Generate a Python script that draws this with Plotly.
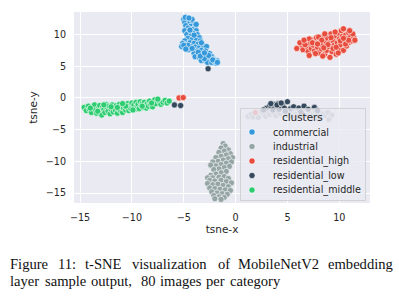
import plotly.graph_objects as go

# ---------------- data ----------------
categories = ["commercial", "industrial", "residential_high", "residential_low", "residential_middle"]
colors = ["#3498db", "#95a5a6", "#e74c3c", "#34495e", "#2ecc71"]

commercial_x = [-5.0, -4.7, -4.4, -4.9, -4.5, -4.1, -4.8, -4.3, -3.9, -4.6, -4.2, -3.8, -4.9, -4.5, -4.1, -3.7,
                -4.7, -4.3, -3.9, -3.5, -4.6, -4.2, -3.8, -3.4, -4.9, -5.1, -4.7, -4.4, -4.0, -3.6, -3.2, -5.2,
                -4.8, -4.3, -3.9, -3.5, -3.1, -2.8, -4.5, -4.1, -3.7, -3.3, -2.9, -4.0, -3.6, -3.2, -2.8, -2.5,
                -3.9, -3.5, -3.1, -2.7, -2.3, -3.3, -2.9, -2.5, -2.1, -1.8, -2.7, -2.3, -1.9, -3.0, -4.2, -3.8,
                -4.4, -4.0, -3.3, -4.6, -2.6, -2.0, -4.85, -4.5, -5.0, -4.2, -3.6, -2.2, -1.75, -3.4, -4.8, -3.0]
commercial_y = [12.4, 12.3, 12.1, 11.9, 11.7, 11.8, 11.4, 11.3, 11.2, 11.0, 10.8, 10.6, 10.6, 10.4, 10.2, 10.0,
                10.0, 9.8, 9.6, 9.5, 9.4, 9.2, 9.1, 9.0, 9.0, 8.6, 8.5, 8.7, 8.6, 8.5, 8.4, 8.1,
                8.0, 8.1, 8.0, 7.9, 7.9, 8.1, 7.6, 7.5, 7.4, 7.5, 7.4, 7.0, 6.9, 6.9, 6.8, 7.0,
                6.5, 6.4, 6.3, 6.4, 6.5, 5.9, 5.9, 6.0, 6.1, 5.9, 5.6, 5.6, 5.5, 6.2, 12.4, 11.6,
                10.7, 9.9, 8.7, 8.3, 6.7, 5.8, 12.7, 12.6, 8.3, 7.8, 7.2, 6.0, 5.6, 6.6, 7.7, 7.1]

industrial_x = [-1.2, -1.0, -1.4, -0.7, -1.1, -1.6, -0.5, -0.9, -1.4, -1.9, -0.3, -0.7, -1.2, -1.7, -2.2, -0.4,
                -0.9, -1.4, -1.9, -2.4, -0.6, -1.1, -1.6, -2.1, -0.9, -1.4, -1.9, -2.4, -2.7, -2.2, -1.6, -1.1,
                -0.7, -2.5, -2.0, -1.4, -0.9, -0.4, -2.7, -2.2, -1.7, -1.2, -0.7, -2.5, -2.0, -1.5, -1.0, -0.5,
                -2.3, -1.8, -1.3, -0.8, -2.1, -1.6, -1.1, -2.0, -1.4,
                1.2, 1.5, 1.7, 2.0, 2.3, 2.5, 2.7, 2.9, 3.1, 3.3, 3.5, 3.7, 3.9, 4.1, 4.3, 4.5,
                4.7, 4.9, 5.1, 5.3, 5.5, 5.7, 5.9, 6.1, 6.3, 6.5, 6.7, 6.9, 7.1, 7.3, 7.5, 7.7,
                7.9, 8.1, 8.3, 8.5, 8.7, 8.9, 9.1, 9.3, 4.0, 5.6, 6.8, 2.2, 6.0, 8.0, 9.0]
industrial_y = [-7.2, -7.6, -7.9, -8.2, -8.4, -8.6, -8.8, -9.0, -9.2, -9.4, -9.4, -9.6, -9.8, -10.0, -10.1, -10.1,
                -10.3, -10.5, -10.7, -10.6, -10.8, -11.0, -11.2, -11.3, -11.6, -11.8, -12.0, -12.2, -12.6, -12.6, -12.5, -12.4,
                -12.7, -13.0, -13.1, -13.0, -13.2, -13.4, -13.5, -13.7, -13.6, -13.8, -14.0, -14.2, -14.3, -14.4, -14.5, -14.6,
                -14.8, -15.0, -15.1, -15.2, -15.4, -15.6, -15.7, -15.9, -16.0,
                -2.9, -2.6, -3.0, -2.4, -2.7, -2.1, -2.5, -2.9, -2.2, -2.6, -2.0, -2.4, -2.8, -2.1, -2.5, -1.9,
                -2.3, -2.7, -2.0, -2.4, -2.8, -2.1, -2.5, -1.9, -2.7, -2.3, -2.0, -2.6, -2.2, -2.9, -2.4, -2.1,
                -2.7, -2.3, -3.0, -2.5, -2.8, -2.3, -3.1, -2.7, -1.6, -1.7, -1.8, -3.1, -3.0, -3.3, -3.4]

res_high_x = [5.9, 6.4, 6.5, 6.8, 6.9, 7.0, 7.1, 7.2, 7.3, 7.4, 7.5, 7.6, 7.7, 7.8, 7.9, 8.0,
              8.1, 8.2, 8.3, 8.4, 8.5, 8.6, 8.7, 8.8, 8.9, 9.0, 9.1, 9.1, 9.2, 9.3, 9.4, 9.5,
              9.6, 9.7, 9.8, 9.9, 10.0, 10.0, 10.1, 10.2, 10.3, 10.4, 10.5, 10.6, 10.7, 10.8, 10.9, 11.0,
              11.1, 11.2, 11.4, 11.5, 10.4, 9.6, 8.0, 7.1, 6.2, 8.4, 9.9, 10.6, 11.3, 7.7, 8.9, 9.4,
              8.3, 7.4, 6.7, 10.1, 9.2, 10.9, 8.6, 7.9, 9.7, 10.4, 11.0, 6.6, 8.5, -5.45, -5.05, 1.9]
res_high_y = [7.8, 8.3, 7.6, 8.9, 8.1, 7.3, 6.7, 8.6, 7.8, 9.1, 8.3, 7.4, 8.8, 9.5, 8.0, 7.1,
              8.6, 9.3, 7.7, 8.3, 9.7, 6.9, 8.9, 7.5, 9.4, 8.1, 6.4, 8.7, 10.1, 7.3, 9.0, 8.3,
              9.8, 6.9, 8.7, 10.2, 7.8, 9.3, 8.4, 10.6, 9.7, 7.5, 8.9, 9.9, 8.2, 9.4, 10.3, 8.8,
              9.7, 9.0, 9.5, 9.1, 10.9, 10.4, 9.6, 9.3, 8.7, 6.6, 7.1, 8.5, 10.1, 7.0, 8.4, 7.8,
              9.1, 8.7, 8.4, 9.0, 9.5, 9.1, 10.1, 8.5, 8.0, 9.4, 10.6, 9.1, 7.9, 0.0, 0.05, -2.3]

res_low_x = [3.0, 3.3, 3.5, 3.7, 3.9, 4.1, 4.3, 4.5, 4.7, 3.6, 4.2, 5.0, 5.3, 5.6, 6.1, 6.6,
             7.0, 7.6, 7.9, 2.7, 4.8, 6.3, 3.4, 4.0, 4.4, -5.9, -5.3, -2.65]
res_low_y = [-1.6, -1.2, -1.5, -1.0, -1.3, -0.9, -1.4, -1.1, -1.6, -1.9, -1.8, -0.6, -1.7, -1.4, -1.6, -1.3,
             -1.8, -1.5, -2.0, -1.9, -2.1, -2.2, -0.9, -1.1, -0.8, -1.1, -1.2, 4.6]

res_mid_x = [-14.6, -14.4, -14.2, -14.1, -13.9, -13.8, -13.6, -13.5, -13.4, -13.2, -13.1, -13.0, -12.9, -12.8,
             -12.7, -12.6, -12.5, -12.4, -12.3, -12.2, -12.1, -12.0, -11.9, -11.8, -11.7, -11.6, -11.5, -11.4,
             -11.3, -11.2, -11.1, -11.0, -10.9, -10.8, -10.7, -10.6, -10.5, -10.4, -10.3, -10.2, -10.1, -10.0,
             -9.9, -9.8, -9.7, -9.6, -9.5, -9.4, -9.3, -9.2, -9.1, -9.0, -8.9, -8.8, -8.7, -8.6, -8.5, -8.4,
             -8.3, -8.2, -8.0, -7.8, -7.7, -7.4, -7.2, -7.0, -6.8, -6.6, -6.4, -13.3, -12.0, -10.6, -9.9,
             -11.4, -12.7, -14.0, -9.0, -8.1, -10.9, -7.5]
res_mid_y = [-1.5, -2.0, -1.3, -1.8, -2.3, -1.5, -1.1, -1.9, -2.4, -1.6, -1.2, -2.0, -2.7, -1.4,
             -1.8, -2.3, -1.0, -1.6, -2.1, -1.3, -2.5, -1.8, -1.1, -2.2, -1.5, -1.9, -1.2, -2.4,
             -1.7, -1.0, -2.0, -1.4, -2.3, -1.6, -1.1, -1.9, -1.4, -0.9, -2.0, -1.3, -1.7, -0.8,
             -1.5, -1.1, -1.8, -0.7, -1.3, -1.0, -1.7, -0.6, -1.2, -0.9, -1.5, -0.7, -1.2, -1.6, -0.9, -1.3,
             -0.5, -1.0, -1.4, -0.3, -0.9, -0.5, -1.0, -0.7, -0.4, -0.8, -0.5, -2.1, -1.4, -1.3, -1.9,
             -1.5, -1.1, -1.6, -1.3, -0.8, -0.9, -0.2]

xs = [commercial_x, industrial_x, res_high_x, res_low_x, res_mid_x]
ys = [commercial_y, industrial_y, res_high_y, res_low_y, res_mid_y]

x_ticks = [-15, -10, -5, 0, 5, 10]
y_ticks = [-15, -10, -5, 0, 5, 10]
x_title = "tsne-x"
y_title = "tsne-y"
legend_title = "clusters"
caption_line1 = ["Figure", "11:", "t-SNE", "visualization", "of", "MobileNetV2", "embedding"]
caption_line2 = ["layer", "sample", "output,", "80", "images", "per", "category"]

# ---------------- layout geometry ----------------
W, H = 399, 299
L, R, T, B = 74, 370, 12, 203
pw, ph = R - L, B - T
TXT = "#262626"


def px_x(p):
    return (p - L) / pw


def px_y(p):
    return (B - p) / ph


fig = go.Figure()
for name, col, x, y in zip(categories, colors, xs, ys):
    fig.add_trace(go.Scatter(
        x=x, y=y, mode="markers", name=name, showlegend=False,
        marker=dict(size=6.2, color=col, line=dict(color="white", width=0.6)),
    ))

axis_common = dict(
    showgrid=True, gridcolor="white", gridwidth=1, zeroline=False, showline=False,
    ticks="outside", ticklen=5, tickcolor="rgba(0,0,0,0)",
    tickfont=dict(family="DejaVu Sans", size=9.6, color=TXT),
)
fig.update_xaxes(range=[-15.58, 12.96], tickvals=x_ticks,
                 title=dict(text=x_title, font=dict(family="DejaVu Sans", size=10.5, color=TXT), standoff=4),
                 **axis_common)
fig.update_yaxes(range=[-16.57, 13.55], tickvals=y_ticks,
                 title=dict(text=y_title, font=dict(family="DejaVu Sans", size=10.5, color=TXT), standoff=6),
                 **axis_common)

shapes = []
annotations = []
# manual legend box (seaborn style)
lx0, lx1, ly0, ly1 = 240.5, 365.5, 108.5, 200.5
shapes.append(dict(type="rect", xref="paper", yref="paper", layer="above",
                   x0=px_x(lx0), x1=px_x(lx1), y0=px_y(ly1), y1=px_y(ly0),
                   fillcolor="rgba(234,234,242,0.8)", line=dict(color="rgba(204,204,204,0.8)", width=1)))
annotations.append(dict(text=legend_title, xref="paper", yref="paper", x=px_x(302), y=px_y(117.5),
                        xanchor="center", yanchor="middle", showarrow=False,
                        font=dict(family="DejaVu Sans", size=10.4, color=TXT)))
item_y = [132, 146.5, 161, 175.5, 190]
for name, col, iy in zip(categories, colors, item_y):
    shapes.append(dict(type="circle", xref="paper", yref="paper", layer="above",
                       xsizemode="pixel", ysizemode="pixel",
                       xanchor=px_x(252), yanchor=px_y(iy), x0=-3.1, x1=3.1, y0=-3.1, y1=3.1,
                       fillcolor=col, line=dict(color="white", width=0.6)))
    annotations.append(dict(text=name, xref="paper", yref="paper", x=px_x(270.5), y=px_y(iy),
                            xanchor="left", yanchor="middle", showarrow=False,
                            font=dict(family="DejaVu Sans", size=9.6, color=TXT)))

# caption (justified first line, as in the LaTeX source)
line1_x = [8, 56.4, 83.2, 130, 215.6, 235.8, 326]
line2_x = [8, 42.7, 89.4, 139.2, 157.9, 203.8, 228]
for words, xpos, yy in ((caption_line1, line1_x, 263.5), (caption_line2, line2_x, 281)):
    for w, xp in zip(words, xpos):
        annotations.append(dict(text=w, xref="paper", yref="paper", x=px_x(xp), y=px_y(yy),
                                xanchor="left", yanchor="middle", showarrow=False,
                                font=dict(family="Liberation Serif", size=14.6, color="#111111")))

fig.update_layout(
    width=W, height=H,
    margin=dict(l=L, r=W - R, t=T, b=H - B, pad=0),
    paper_bgcolor="white", plot_bgcolor="#EAEAF2",
    showlegend=False, hovermode=False,
    shapes=shapes, annotations=annotations,
    font=dict(family="DejaVu Sans", color=TXT),
)

fig.write_html("out.html", config={"displayModeBar": False, "staticPlot": True},
               post_script="document.body.style.margin='0';document.body.style.overflow='hidden';")
